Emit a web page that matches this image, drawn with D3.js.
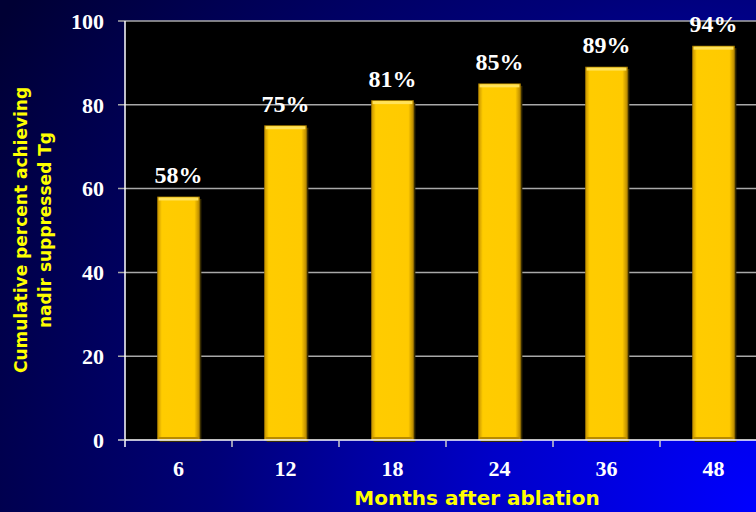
<!DOCTYPE html>
<html>
<head>
<meta charset="utf-8">
<script src="https://cdn.jsdelivr.net/npm/d3@7"></script>
<style>
  html, body { margin: 0; padding: 0; background: #000040; }
  svg { display: block; }
</style>
</head>
<body>
<script>
// chart data
var months = ["6", "12", "18", "24", "36", "48"];
var percents = [58, 75, 81, 85, 89, 94];
var yTicks = [0, 20, 40, 60, 80, 100];

var W = 756, H = 512;
// plot frame (note: "top" is reserved on window, so prefix these)
var plotL = 125, plotT = 21, plotB = 440, plotR = 767;

var svg = d3.select("body").append("svg")
    .attr("width", W).attr("height", H);

var defs = svg.append("defs");

// background: dark navy fading into bright blue at bottom right
var bg = defs.append("radialGradient").attr("id", "bg")
    .attr("gradientUnits", "userSpaceOnUse")
    .attr("cx", W).attr("cy", H).attr("r", 900);
bg.append("stop").attr("offset", "0%").attr("stop-color", "#0000ff");
bg.append("stop").attr("offset", "30%").attr("stop-color", "#0000c8");
bg.append("stop").attr("offset", "60%").attr("stop-color", "#000078");
bg.append("stop").attr("offset", "100%").attr("stop-color", "#000034");

// gold bar, a bit darker on the sides
var gold = defs.append("linearGradient").attr("id", "gold")
    .attr("x1", "0").attr("x2", "1").attr("y1", "0").attr("y2", "0");
gold.append("stop").attr("offset", "0%").attr("stop-color", "#c99600");
gold.append("stop").attr("offset", "10%").attr("stop-color", "#ffcc00");
gold.append("stop").attr("offset", "88%").attr("stop-color", "#ffca00");
gold.append("stop").attr("offset", "100%").attr("stop-color", "#b88800");

svg.append("rect").attr("width", W).attr("height", H).attr("fill", "url(#bg)");

var x = d3.scaleBand().domain(months).range([plotL, plotR]).paddingInner(0).paddingOuter(0);
var y = d3.scaleLinear().domain([0, 100]).range([plotB, plotT]);
var barW = x.bandwidth() * 0.39;

// plot area
svg.append("rect")
    .attr("x", plotL).attr("y", plotT)
    .attr("width", W - plotL).attr("height", plotB - plotT)
    .attr("fill", "#000");

// gridlines
svg.append("g").selectAll("line")
    .data(yTicks.filter(function(d){ return d > 0; }))
    .join("line")
    .attr("x1", plotL - 7).attr("x2", W)
    .attr("y1", function(d){ return y(d); })
    .attr("y2", function(d){ return y(d); })
    .attr("stroke", "#a8a8a8").attr("stroke-width", 1.5);

// y axis line + ticks
svg.append("line")
    .attr("x1", plotL).attr("x2", plotL)
    .attr("y1", plotT).attr("y2", plotB + 7)
    .attr("stroke", "#fff").attr("stroke-width", 1.5);
svg.append("line")
    .attr("x1", plotL - 7).attr("x2", plotL)
    .attr("y1", plotB).attr("y2", plotB)
    .attr("stroke", "#ccc").attr("stroke-width", 1.5);

// tick labels on y
svg.append("g").selectAll("text")
    .data(yTicks)
    .join("text")
    .attr("x", plotL - 21)
    .attr("y", function(d){ return y(d); })
    .attr("dy", "0.35em")
    .attr("text-anchor", "end")
    .attr("fill", "#fff")
    .attr("font-family", "'Liberation Serif', 'Times New Roman', serif")
    .attr("font-weight", "bold")
    .attr("font-size", "22px")
    .text(function(d){ return d; });

// bars
var bars = svg.append("g").selectAll("g")
    .data(percents)
    .join("g")
    .attr("transform", function(d, i){
        return "translate(" + (x(months[i]) + (x.bandwidth() - barW) / 2) + ",0)";
    });

// little shadow under each bar
bars.append("rect")
    .attr("x", 2).attr("y", function(d){ return y(d) + 2; })
    .attr("width", barW).attr("height", function(d){ return plotB - y(d); })
    .attr("fill", "#3a2e00");

bars.append("rect")
    .attr("x", 0).attr("y", function(d){ return y(d); })
    .attr("width", barW).attr("height", function(d){ return plotB - y(d); })
    .attr("fill", "url(#gold)")
    .attr("stroke", "#a07800").attr("stroke-width", 0.8);

// bevel on top and bottom
bars.append("rect")
    .attr("x", 1).attr("y", function(d){ return y(d) + 0.5; })
    .attr("width", barW - 2).attr("height", 3)
    .attr("fill", "#ffe25a");
bars.append("rect")
    .attr("x", 1).attr("y", plotB - 3)
    .attr("width", barW - 2).attr("height", 3)
    .attr("fill", "#b88a00");

// value labels
svg.append("g").selectAll("text")
    .data(percents)
    .join("text")
    .attr("x", function(d, i){ return x(months[i]) + x.bandwidth() / 2; })
    .attr("y", function(d){ return y(d) - 14; })
    .attr("text-anchor", "middle")
    .attr("fill", "#fff")
    .attr("font-family", "'Liberation Serif', 'Times New Roman', serif")
    .attr("font-weight", "bold")
    .attr("font-size", "24px")
    .text(function(d){ return d + "%"; });

// x axis line, ticks and labels
svg.append("line")
    .attr("x1", plotL).attr("x2", W)
    .attr("y1", plotB).attr("y2", plotB)
    .attr("stroke", "#fff").attr("stroke-width", 1.5);

svg.append("g").selectAll("line")
    .data(months.slice(1))
    .join("line")
    .attr("x1", function(d){ return x(d); })
    .attr("x2", function(d){ return x(d); })
    .attr("y1", plotB).attr("y2", plotB + 7)
    .attr("stroke", "#ccc").attr("stroke-width", 1.5);

svg.append("g").selectAll("text")
    .data(months)
    .join("text")
    .attr("x", function(d){ return x(d) + x.bandwidth() / 2; })
    .attr("y", 476)
    .attr("text-anchor", "middle")
    .attr("fill", "#fff")
    .attr("font-family", "'Liberation Serif', 'Times New Roman', serif")
    .attr("font-weight", "bold")
    .attr("font-size", "22px")
    .text(function(d){ return d; });

// axis titles
var titleFont = "'Comic Sans MS', 'DejaVu Sans', sans-serif";

svg.append("text")
    .attr("x", 477).attr("y", 505)
    .attr("text-anchor", "middle")
    .attr("fill", "#ffff00")
    .attr("font-family", titleFont)
    .attr("font-weight", "bold")
    .attr("font-size", "20px")
    .text("Months after ablation");

var yt = svg.append("text")
    .attr("transform", "translate(27,230) rotate(-90)")
    .attr("text-anchor", "middle")
    .attr("fill", "#ffff00")
    .attr("font-family", titleFont)
    .attr("font-weight", "bold")
    .attr("font-size", "17px");
yt.append("tspan").attr("x", 0).attr("y", 0).text("Cumulative percent achieving");
yt.append("tspan").attr("x", 0).attr("y", 24).text("nadir suppressed Tg");
</script>
</body>
</html>
